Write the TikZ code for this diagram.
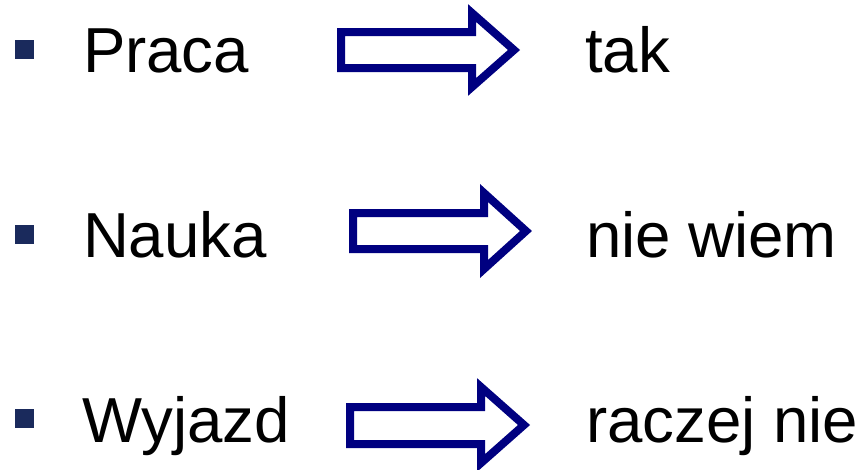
\documentclass[tikz,border=0pt]{standalone}
\usepackage{fontspec}
\setmainfont{Liberation Sans}
\definecolor{bulletblue}{RGB}{26,42,92}
\definecolor{arrownavy}{RGB}{0,0,128}
\begin{document}
\begin{tikzpicture}[x=1pt,y=-1pt,
  lbl/.style={anchor=base west,inner sep=0pt,outer sep=0pt,font=\fontsize{63.6}{70}\selectfont},
  bul/.style={fill=bulletblue,draw=none,minimum size=19pt,inner sep=0pt,outer sep=0pt},
  blockarrow/.style={draw=arrownavy,line width=8pt,fill=white,line join=miter,miter limit=10}]
\useasboundingbox (0,0) rectangle (865,469);
% bullets
\node[bul] (b1) at (24.5,49) {};
\node[bul] (b2) at (24.5,234) {};
\node[bul] (b3) at (24.5,418) {};
% left labels
\node[lbl] (l1) at (83,72) {Praca};
\node[lbl] (l2) at (83,257) {Nauka};
\node[lbl] (l3) at (82,442) {Wyjazd};
% right labels
\node[lbl] (r1) at (585,72) {tak};
\node[lbl] (r2) at (586,257) {nie wiem};
\node[lbl] (r3) at (586,442) {raczej nie};
% block arrows
\draw[blockarrow] (341,32) -- (472,32) -- (472,13) -- (514,50) -- (472,87) -- (472,68) -- (341,68) -- cycle;
\draw[blockarrow] (353,213) -- (484,213) -- (484,193) -- (526,231) -- (484,269) -- (484,249) -- (353,249) -- cycle;
\draw[blockarrow] (350,407) -- (481,407) -- (481,387) -- (524,425) -- (481,463) -- (481,444) -- (350,444) -- cycle;
\end{tikzpicture}
\end{document}
